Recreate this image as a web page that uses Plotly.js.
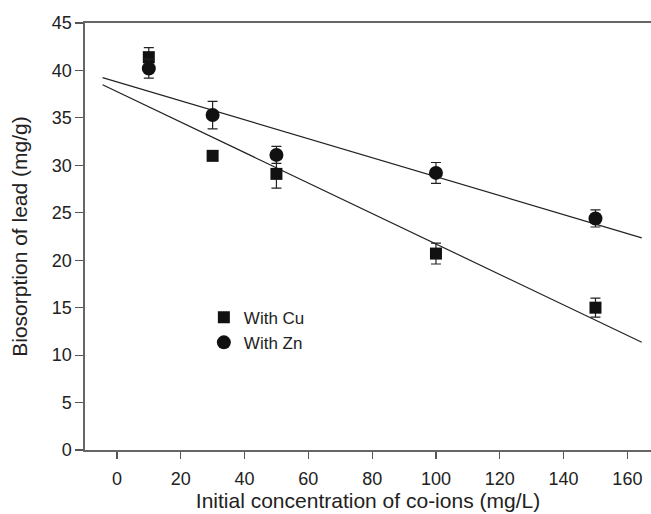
<!DOCTYPE html>
<html>
<head>
<meta charset="utf-8">
<script src="https://cdn.plot.ly/plotly-3.0.1.min.js"></script>
<style>
  html, body { margin: 0; padding: 0; background: #fff; }
  #chart { width: 651px; height: 514px; }
</style>
</head>
<body>
<div id="chart"></div>
<script>
// Initial co-ion concentration (mg/L)
const concentration = [10, 30, 50, 100, 150];

// Lead biosorption (mg/g) with copper present, and its error bars
const cuUptake = [41.4, 31.0, 29.1, 20.7, 15.0];
const cuError  = [1.0, 0.4, 1.5, 1.1, 1.0];

// Lead biosorption (mg/g) with zinc present, and its error bars
const znUptake = [40.2, 35.3, 31.1, 29.2, 24.4];
const znError  = [1.0, 1.45, 0.9, 1.1, 0.9];

// Linear trend lines, endpoints
const fitX   = [-4.5, 164.5];
const cuFitY = [38.5, 11.35];
const znFitY = [39.25, 22.35];

const seriesNames = ['With Cu', 'With Zn'];

const ink = '#111';

const traces = [
  {
    x: fitX, y: cuFitY, mode: 'lines', showlegend: false, hoverinfo: 'skip',
    line: { color: '#222', width: 1.2 }
  },
  {
    x: fitX, y: znFitY, mode: 'lines', showlegend: false, hoverinfo: 'skip',
    line: { color: '#222', width: 1.2 }
  },
  {
    x: concentration, y: cuUptake, name: seriesNames[0], mode: 'markers',
    marker: { symbol: 'square', size: 12, color: ink },
    error_y: { type: 'data', array: cuError, visible: true, color: '#222', thickness: 1.2, width: 5 }
  },
  {
    x: concentration, y: znUptake, name: seriesNames[1], mode: 'markers',
    marker: { symbol: 'circle', size: 14, color: ink },
    error_y: { type: 'data', array: znError, visible: true, color: '#222', thickness: 1.2, width: 5 }
  }
];

const layout = {
  width: 651,
  height: 514,
  margin: { l: 85, r: 0, t: 23, b: 64 },
  paper_bgcolor: '#fff',
  plot_bgcolor: '#fff',
  font: { family: 'Liberation Sans, Arial, sans-serif', color: '#222', size: 18 },
  showlegend: true,
  legend: {
    x: 0.21, y: 0.352, xanchor: 'left', yanchor: 'top',
    bgcolor: 'rgba(0,0,0,0)', borderwidth: 0,
    font: { size: 17, color: '#222' }
  },
  xaxis: {
    range: [-10, 167.4],
    tickvals: [0, 20, 40, 60, 80, 100, 120, 140, 160],
    ticks: 'outside', ticklen: 7, tickwidth: 1.2, tickcolor: '#555',
    ticklabelstandoff: 5,
    showline: true, linecolor: '#666', linewidth: 1.6, mirror: true,
    showgrid: false, zeroline: false,
    tickfont: { size: 18, color: '#222' },
    title: { text: 'Initial concentration of co-ions (mg/L)', font: { size: 21, color: '#222' }, standoff: 1 }
  },
  yaxis: {
    range: [0, 45],
    tickvals: [0, 5, 10, 15, 20, 25, 30, 35, 40, 45],
    ticks: 'outside', ticklen: 8, tickwidth: 1.2, tickcolor: '#555',
    showline: true, linecolor: '#666', linewidth: 1.6,
    showgrid: false, zeroline: false,
    tickfont: { size: 18, color: '#222' },
    title: { text: 'Biosorption of lead (mg/g)', font: { size: 21, color: '#222' }, standoff: 18 }
  }
};

Plotly.newPlot('chart', traces, layout, { displayModeBar: false, staticPlot: true });
</script>
</body>
</html>
